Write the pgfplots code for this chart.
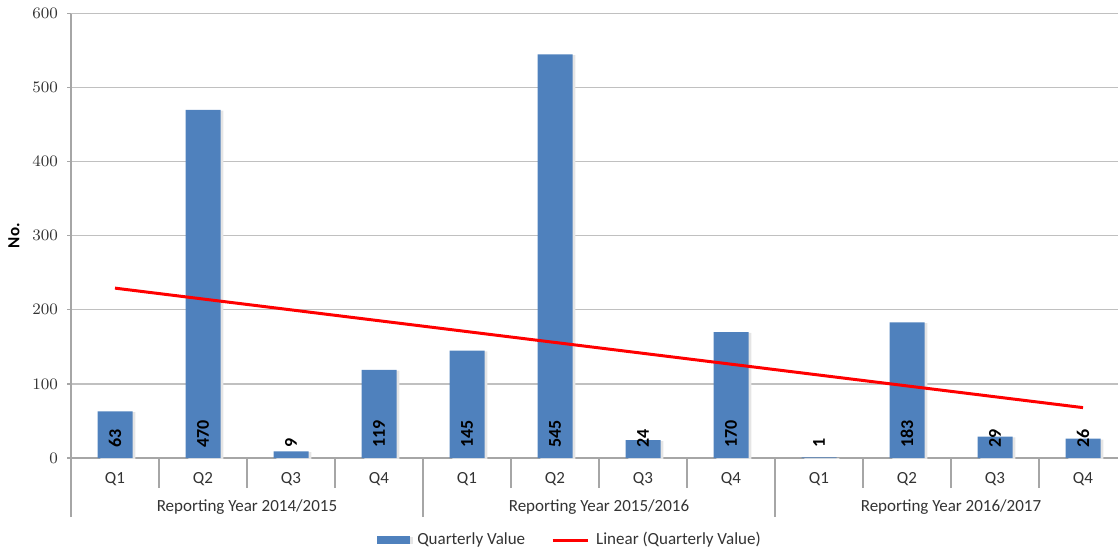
\documentclass[border=0pt]{standalone}
\usepackage{pgfplots}
\usepackage{pgfplotstable}
\pgfplotsset{compat=1.18}
\usepackage{fontspec}
\setmainfont{Carlito}
\definecolor{barblue}{HTML}{4F81BD}
\definecolor{gridgray}{HTML}{C0C0C0}
\definecolor{axgray}{HTML}{A6A6A6}
\definecolor{txt}{HTML}{333333}

\pgfplotstableread{
x y lab
0 63 63
1 470 470
2 9 9
3 119 119
4 145 145
5 545 545
6 24 24
7 170 170
8 1 1
9 183 183
10 29 29
11 26 26
}\datatable

\begin{document}
\begin{tikzpicture}[x=1pt,y=1pt]
\useasboundingbox (0,0) rectangle (559,276.5);
\begin{axis}[
  at={(35.5pt,47.5pt)}, anchor=south west,
  scale only axis, width=528pt, height=222.25pt,
  xmin=-0.5, xmax=11.5, ymin=0, ymax=600,
  ytick={0,100,...,600},
  axis x line*=bottom, axis y line*=left,
  axis line style={axgray, line width=0.6pt, -},
  ymajorgrids, grid style={gridgray, line width=0.6pt},
  xtick={0,...,11},
  xticklabels={Q1,Q2,Q3,Q4,Q1,Q2,Q3,Q4,Q1,Q2,Q3,Q4},
  major x tick style={draw=none},
  minor xtick={0.5,1.5,...,10.5},
  minor x tick style={axgray, line width=0.6pt},
  minor tick length=15pt,
  tick align=outside,
  major tick length=2pt,
  major y tick style={axgray, line width=0.6pt},
  extra x ticks={-0.5,3.5,7.5,11.5},
  extra x tick labels={},
  extra x tick style={major x tick style={draw=axgray, line width=0.6pt}, major tick length=29.5pt, tick align=outside},
  tick label style={font=\fontsize{8.5}{10}\selectfont, text=txt},
  xticklabel style={yshift=-1.5pt},
  yticklabel style={xshift=-1pt},
  legend columns=2,
  legend style={at={(rel axis cs:0.4735,0)}, anchor=center, yshift=-41pt, draw=none, fill=none,
    font=\fontsize{8.5}{10}\selectfont, text=txt,
    /tikz/every odd column/.append style={column sep=1.5pt},
    /tikz/every even column/.append style={column sep=11pt}},
  legend cell align=left,
  clip=false,
]
\addplot[ybar, bar width=17.5pt, fill=barblue, draw=none,
  preaction={fill=black!10, transform canvas={xshift=1.4pt, yshift=-0.4pt}},
  legend image code/.code={\fill[barblue] (0pt,-1.8pt) rectangle (16.5pt,1.8pt);}]
  table[x=x, y=y] {\datatable};
\addlegendentry{Quarterly Value}
\addplot[red, line width=1.5pt, mark=none,
  legend image code/.code={\draw[red, line width=1.5pt] (0pt,0pt) -- (17.5pt,0pt);}]
  coordinates {(0,229.3) (11,68.0)};
\addlegendentry{Linear (Quarterly Value)}
\addplot[draw=none, mark=none, forget plot,
  nodes near coords, point meta=explicit symbolic,
  every node near coord/.append style={rotate=90, anchor=west, font=\fontsize{9}{10}\bfseries, text=black, xshift=5pt, inner sep=0pt}]
  table[x=x, y expr=0, meta=lab] {\datatable};
\node[font=\fontsize{8.5}{10}\selectfont, text=txt] at (axis cs:1.5,0) [yshift=-24.5pt] {Reporting Year 2014/2015};
\node[font=\fontsize{8.5}{10}\selectfont, text=txt] at (axis cs:5.5,0) [yshift=-24.5pt] {Reporting Year 2015/2016};
\node[font=\fontsize{8.5}{10}\selectfont, text=txt] at (axis cs:9.5,0) [yshift=-24.5pt] {Reporting Year 2016/2017};
\node[xshift=-28.5pt, rotate=90, font=\fontsize{8.5}{10}\selectfont\bfseries, text=black] at (rel axis cs:0,0.5) {No.};
\end{axis}
\end{tikzpicture}
\end{document}
